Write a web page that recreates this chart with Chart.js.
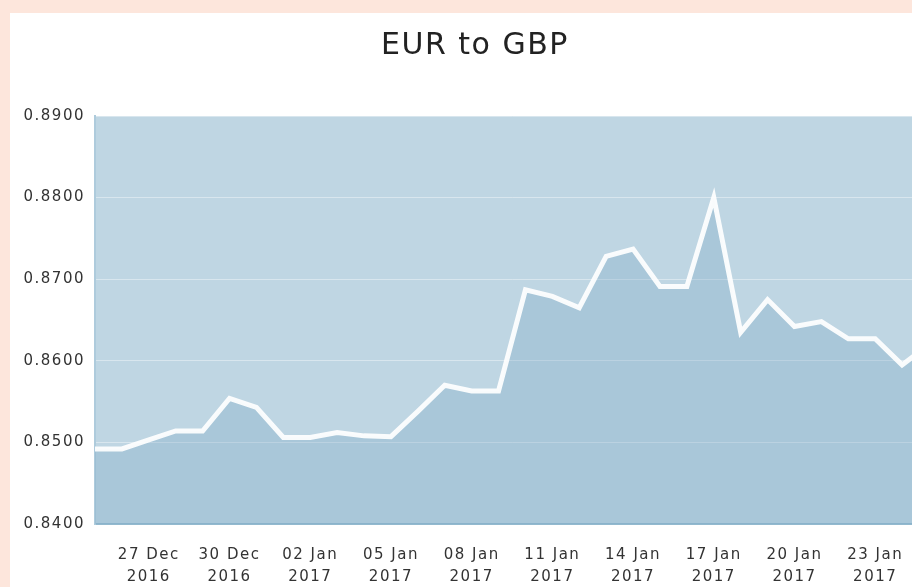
<!DOCTYPE html>
<html>
<head>
<meta charset="utf-8">
<script src="https://cdn.jsdelivr.net/npm/chart.js@4"></script>
<style>
  html, body { margin: 0; padding: 0; }
  body { width: 912px; height: 587px; overflow: hidden; background: #fde6dc; position: relative; }
  #card { position: absolute; left: 10px; top: 13px; width: 930px; height: 574px; background: #ffffff; }
  #card canvas { display: block; }
</style>
</head>
<body>
<div id="card"><canvas id="fxChart" width="930" height="574"></canvas></div>
<script>
// daily rates, 25 Dec 2016 - 25 Jan 2017
const dates = [
  '25 Dec 2016', '26 Dec 2016', '27 Dec 2016', '28 Dec 2016', '29 Dec 2016', '30 Dec 2016', '31 Dec 2016',
  '01 Jan 2017', '02 Jan 2017', '03 Jan 2017', '04 Jan 2017', '05 Jan 2017', '06 Jan 2017', '07 Jan 2017',
  '08 Jan 2017', '09 Jan 2017', '10 Jan 2017', '11 Jan 2017', '12 Jan 2017', '13 Jan 2017', '14 Jan 2017',
  '15 Jan 2017', '16 Jan 2017', '17 Jan 2017', '18 Jan 2017', '19 Jan 2017', '20 Jan 2017', '21 Jan 2017',
  '22 Jan 2017', '23 Jan 2017', '24 Jan 2017', '25 Jan 2017'
];
const eurGbp = [
  0.8492, 0.8492, 0.8503, 0.8514, 0.8514, 0.8554, 0.8543,
  0.8506, 0.8506, 0.8512, 0.8508, 0.8507, 0.8538, 0.8570,
  0.8563, 0.8563, 0.8687, 0.8679, 0.8665, 0.8728, 0.8737,
  0.8691, 0.8691, 0.8800, 0.8635, 0.8675, 0.8642, 0.8648,
  0.8627, 0.8627, 0.8595, 0.8620
];
const yTicks = [0.84, 0.85, 0.86, 0.87, 0.88, 0.89];

// plot background + letter spacing (canvas resets state on resize, so set it before layout and draw)
const plotBg = {
  id: 'plotBg',
  beforeLayout(chart) { chart.ctx.letterSpacing = '1.5px'; },
  beforeDraw(chart) {
    const a = chart.chartArea, ctx = chart.ctx;
    ctx.letterSpacing = '1.5px';
    ctx.save();
    ctx.fillStyle = '#bfd6e3';
    ctx.fillRect(a.left, a.top, a.right - a.left, a.bottom - a.top);
    ctx.restore();
  }
};

new Chart(document.getElementById('fxChart'), {
  type: 'line',
  data: {
    labels: dates,
    datasets: [{
      label: 'EUR to GBP',
      data: eurGbp,
      borderColor: 'rgba(255,255,255,0.92)',
      borderWidth: 5,
      backgroundColor: 'rgba(118,167,197,0.3)',
      fill: 'start',
      tension: 0,
      pointRadius: 0
    }]
  },
  options: {
    responsive: false,
    animation: false,
    layout: { padding: { left: 11, right: 11, top: 0, bottom: 0 } },
    plugins: {
      legend: { display: false },
      tooltip: { enabled: false },
      title: {
        display: true,
        text: 'EUR to GBP',
        color: '#222222',
        font: { family: 'DejaVu Sans', size: 30, weight: 'normal' },
        padding: { top: 15, bottom: 52 }
      }
    },
    scales: {
      x: {
        offset: false,
        grid: { display: false, drawTicks: false },
        border: { display: true, color: '#93b9ce', width: 2 },
        afterFit(scale) { scale.height = 63; },
        ticks: {
          autoSkip: false,
          maxRotation: 0,
          padding: 20,
          color: '#333333',
          font: { family: 'DejaVu Sans', size: 15, lineHeight: 1.45 },
          callback(v, i) {
            if ((i - 2) % 3 !== 0) return null;
            const d = dates[i].split(' ');
            return [d[0] + ' ' + d[1], d[2]];
          }
        }
      },
      y: {
        min: yTicks[0],
        max: yTicks[yTicks.length - 1],
        afterFit(scale) { scale.width = 74; },
        afterBuildTicks(scale) { scale.ticks = yTicks.map(v => ({ value: v })); },
        grid: { color: 'rgba(255,255,255,0.4)', lineWidth: 1, drawTicks: false },
        border: { display: true, color: '#aecbdc', width: 2 },
        ticks: {
          padding: 10,
          color: '#333333',
          font: { family: 'DejaVu Sans', size: 15 },
          callback(v) { return v.toFixed(4); }
        }
      }
    }
  },
  plugins: [plotBg]
});
</script>
</body>
</html>
